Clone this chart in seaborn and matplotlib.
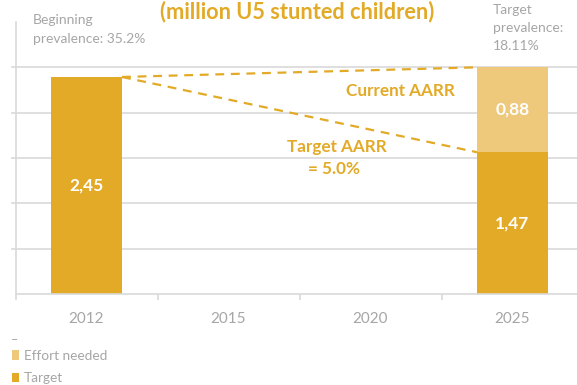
import matplotlib
matplotlib.use("Agg")
import matplotlib.pyplot as plt
import seaborn as sns
import pandas as pd
import numpy as np
from matplotlib.patches import Patch

years = ["2012", "2015", "2020", "2025"]
target_vals = [2.25, 0.0, 0.0, 1.47]      # bar heights (million)
effort_vals = [0.0, 0.0, 0.0, 0.88]
target_labels = ["2,45", "", "", "1,47"]
effort_labels = ["", "", "", "0,88"]
grid_step = 0.47

C_TARGET = "#E2AA27"
C_EFFORT = "#EFC97B"
C_GREY = "#A6A6A6"
C_GRID = "#D9D9D9"

sns.set_theme(style="white")
plt.rcParams["font.family"] = ["Lato", "DejaVu Sans"]

df = pd.DataFrame({"year": years, "target": target_vals, "effort": effort_vals})
df["total"] = df["target"] + df["effort"]

fig = plt.figure(figsize=(5.77, 3.85), dpi=100)
ax = fig.add_axes([15.5 / 577, 91 / 385, 568 / 577, 272 / 385])

sns.barplot(data=df, x="year", y="total", order=years, color=C_EFFORT,
            width=0.5, linewidth=0, saturation=1, ax=ax)
sns.barplot(data=df, x="year", y="target", order=years, color=C_TARGET,
            width=0.5, linewidth=0, saturation=1, ax=ax)

ax.set_xlim(-0.5, 3.5)
ax.set_ylim(0, grid_step * 6)
ax.set_xlabel("")
ax.set_ylabel("")

# grid
ax.set_yticks([grid_step * i for i in range(1, 6)])
ax.set_yticklabels([])
ax.yaxis.grid(True, color=C_GRID, linewidth=1.2)
ax.set_axisbelow(True)
ax.tick_params(axis="y", which="major", length=3.6, color=C_GRID, width=1.2, left=True)

ax.set_xticks(range(len(years)))
ax.set_xticklabels(years, fontsize=11, color=C_GREY)
ax.tick_params(axis="x", which="major", length=0, pad=13)
ax.set_xticks([-0.5, 0.5, 1.5, 2.5], minor=True)
ax.tick_params(axis="x", which="minor", length=4.5, color=C_GRID, width=1.2, bottom=True)

for s in ["top", "right"]:
    ax.spines[s].set_visible(False)
for s in ["left", "bottom"]:
    ax.spines[s].set_color(C_GRID)
    ax.spines[s].set_linewidth(1.2)

# value labels
for i in range(len(years)):
    if target_labels[i]:
        ax.text(i, target_vals[i] / 2, target_labels[i], ha="center", va="center",
                color="white", fontsize=12.5, fontweight="bold")
    if effort_labels[i]:
        ax.text(i, target_vals[i] + effort_vals[i] / 2, effort_labels[i], ha="center",
                va="center", color="white", fontsize=12.5, fontweight="bold")

# AARR dashed lines
hw = 0.25
x0, y0 = 0 + hw, target_vals[0]
x1 = 3 - hw
ax.plot([x0, x1], [y0, target_vals[3] + effort_vals[3]], ls=(0, (4, 3)), color=C_TARGET, lw=1.6)
ax.plot([x0, x1], [y0, target_vals[3]], ls=(0, (4, 3)), color=C_TARGET, lw=1.6)

ax.text(2.21, 2.105, "Current AARR", ha="center", va="center", color=C_TARGET,
        fontsize=12.3, fontweight="bold")
ax.text(1.76, 1.525, "Target AARR", ha="center", va="center", color=C_TARGET,
        fontsize=12.3, fontweight="bold")
ax.text(1.74, 1.294, "= 5.0%", ha="center", va="center", color=C_TARGET,
        fontsize=12.3, fontweight="bold")

# top texts
fig.text(297 / 577, 1 - 1 / 385, "(million U5 stunted children)", ha="center", va="top",
         color=C_TARGET, fontsize=15.7, fontweight="bold")
fig.text(33 / 577, 1 - 20 / 385, "Beginning", ha="left", va="center", color=C_GREY, fontsize=10)
fig.text(33 / 577, 1 - 39 / 385, "prevalence: 35.2%", ha="left", va="center", color=C_GREY, fontsize=10)
fig.text(493 / 577, 1 - 10 / 385, "Target", ha="left", va="center", color=C_GREY, fontsize=10)
fig.text(493 / 577, 1 - 28 / 385, "prevalence:", ha="left", va="center", color=C_GREY, fontsize=10)
fig.text(493 / 577, 1 - 46 / 385, "18.11%", ha="left", va="center", color=C_GREY, fontsize=10)

# legend
fig.text(11 / 577, 1 - 340 / 385, "–", ha="left", va="center", color=C_GREY, fontsize=9)
handles = [Patch(facecolor=C_EFFORT, edgecolor="none"), Patch(facecolor=C_TARGET, edgecolor="none")]
leg = fig.legend(handles, ["Effort needed", "Target"], loc="upper left",
                 bbox_to_anchor=(12 / 577, 1 - 350 / 385), frameon=False, fontsize=9.8,
                 handlelength=0.55, handleheight=0.7, handletextpad=0.3,
                 labelspacing=0.75, borderpad=0, borderaxespad=0)
for t in leg.get_texts():
    t.set_color(C_GREY)

fig.savefig("out.png", dpi=100)
